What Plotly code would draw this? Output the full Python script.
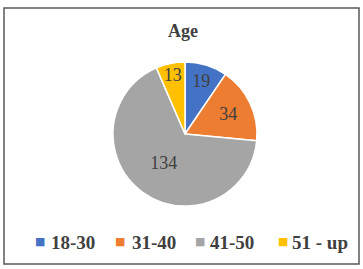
import plotly.graph_objects as go

categories = ["18-30", "31-40", "41-50", "51 - up"]
values = [19, 34, 134, 13]
colors = ["#4472C4", "#ED7D31", "#A5A5A5", "#FFC000"]

W, H = 363, 269
cx, cy, r = 185, 134, 72
SERIF = "Liberation Serif, Times New Roman, serif"

fig = go.Figure(go.Pie(
    labels=categories, values=values, sort=False, direction="clockwise", rotation=0,
    marker=dict(colors=colors, line=dict(color="white", width=1.5)),
    textinfo="value", textposition="inside", insidetextorientation="horizontal",
    textfont=dict(family=SERIF, size=18, color="#404040"),
    domain=dict(x=[(cx - r) / W, (cx + r) / W], y=[1 - (cy + r) / H, 1 - (cy - r) / H]),
    hoverinfo="label+value",
    showlegend=False,
))

# legend row (drawn as text: square swatch + bold label)
leg_sq_x = [40, 120, 200, 283]
leg_tx_x = [49, 130, 208, 290]
leg_y = 241
annotations = []
for cat, col, sx, tx in zip(categories, colors, leg_sq_x, leg_tx_x):
    annotations.append(dict(text="■", x=sx / W, y=1 - leg_y / H, xref="paper", yref="paper",
                            xanchor="center", yanchor="middle", showarrow=False,
                            font=dict(family="DejaVu Sans", size=11, color=col)))
    annotations.append(dict(text=f"<b>{cat}</b>", x=tx / W, y=1 - (leg_y + 1) / H, xref="paper", yref="paper",
                            xanchor="left", yanchor="middle", showarrow=False,
                            font=dict(family=SERIF, size=19, color="#404040")))

fig.update_layout(
    width=W, height=H,
    margin=dict(l=0, r=0, t=0, b=0),
    font=dict(family=SERIF, color="#404040"),
    paper_bgcolor="white", plot_bgcolor="white",
    title=dict(text="<b>Age</b>", x=183 / W, xanchor="center", y=1 - 31 / H, yanchor="middle",
               font=dict(family=SERIF, size=18, color="#404040")),
    uniformtext=dict(minsize=18, mode="show"),
    annotations=annotations,
    shapes=[dict(type="rect", xref="paper", yref="paper",
                 x0=4 / W, x1=359 / W, y0=1 - 264 / H, y1=1 - 8 / H,
                 line=dict(color="#595959", width=1.5), fillcolor="rgba(0,0,0,0)")],
)

fig.write_html("out.html", config={"displayModeBar": False},
               post_script="document.body.style.margin='0';")
